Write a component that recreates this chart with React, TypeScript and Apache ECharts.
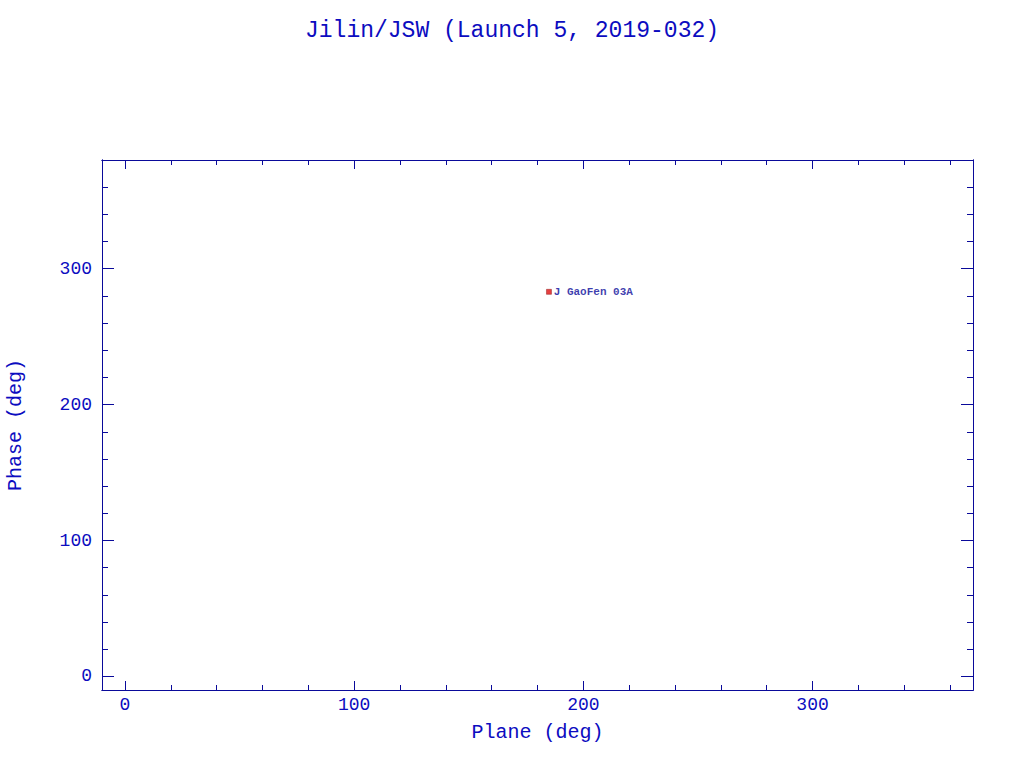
import React, { useEffect, useRef } from "react";
import * as echarts from "echarts";

const titleText = "Jilin/JSW (Launch 5, 2019-032)";
const xName = "Plane (deg)";
const yName = "Phase (deg)";
const xRange = [-10, 370];
const yRange = [-10, 380];
const majorTicks = [0, 100, 200, 300];
const minorTicks = [0, 20, 40, 60, 80, 100, 120, 140, 160, 180, 200, 220, 240, 260, 280, 300, 320, 340, 360];
const satNames = ["J GaoFen 03A"];
const planeValues = [185];
const phaseValues = [283];

const LINE = "#0a0a9a";
const TEXT = "#0c0cc0";
const FONT = "Liberation Mono";

function makeAxis(kind: "x" | "y", position: string, major: boolean, labels: boolean, len: number) {
  const range = kind === "x" ? xRange : yRange;
  return {
    type: "value",
    position,
    min: range[0],
    max: range[1],
    splitLine: { show: false },
    axisLine: { show: true, onZero: false, lineStyle: { color: LINE, width: 1 } },
    axisTick: {
      show: true,
      inside: true,
      length: len,
      customValues: major ? majorTicks : minorTicks,
      lineStyle: { color: LINE, width: 1 },
    },
    axisLabel: labels
      ? {
          show: true,
          customValues: majorTicks,
          color: TEXT,
          fontFamily: FONT,
          fontSize: 18,
          margin: kind === "x" ? 6 : 10,
        }
      : { show: false },
  };
}

export default function App() {
  const ref = useRef<HTMLDivElement>(null);
  useEffect(() => {
    document.body.style.margin = "0";
    const chart = echarts.init(ref.current!, null, { renderer: "svg" });
    const xMain: any = makeAxis("x", "bottom", true, true, 9);
    xMain.name = xName;
    xMain.nameLocation = "middle";
    xMain.nameGap = 32;
    xMain.nameTextStyle = { color: TEXT, fontFamily: FONT, fontSize: 20 };
    const yMain: any = makeAxis("y", "left", true, true, 12);
    yMain.name = yName;
    yMain.nameLocation = "middle";
    yMain.nameGap = 77;
    yMain.nameTextStyle = { color: TEXT, fontFamily: FONT, fontSize: 20 };
    chart.setOption({
      animation: false,
      backgroundColor: "#ffffff",
      title: {
        text: titleText,
        left: "center",
        top: 14,
        textStyle: { color: TEXT, fontFamily: FONT, fontSize: 23, fontWeight: "normal" },
      },
      grid: { left: 102, right: 51, top: 160, bottom: 78, containLabel: false, outerBoundsMode: "none" },
      xAxis: [
        xMain,
        makeAxis("x", "bottom", false, false, 5),
        makeAxis("x", "top", true, false, 9),
        makeAxis("x", "top", false, false, 5),
      ],
      yAxis: [
        yMain,
        makeAxis("y", "left", false, false, 6),
        makeAxis("y", "right", true, false, 12),
        makeAxis("y", "right", false, false, 6),
      ],
      series: [
        {
          type: "scatter",
          xAxisIndex: 0,
          yAxisIndex: 0,
          symbol: "rect",
          symbolSize: 5,
          itemStyle: { color: "#e01010", borderColor: "#800000", borderWidth: 0.5 },
          data: satNames.map((n, i) => ({ name: n, value: [planeValues[i], phaseValues[i]] })),
          label: {
            show: true,
            position: "right",
            distance: 2,
            formatter: (p: any) => p.name,
            color: LINE,
            fontFamily: FONT,
            fontSize: 11,
            fontWeight: "bold",
          },
        },
      ],
    });
    return () => chart.dispose();
  }, []);
  return <div ref={ref} style={{ width: 1024, height: 768 }} />;
}
